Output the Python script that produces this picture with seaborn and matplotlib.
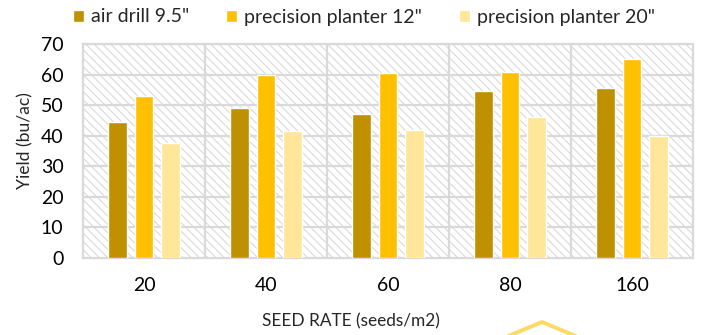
import matplotlib
matplotlib.use("Agg")
import matplotlib.pyplot as plt
import seaborn as sns
import pandas as pd
from matplotlib.patches import Rectangle
from matplotlib.lines import Line2D

seed_rates = ["20", "40", "60", "80", "160"]
air_drill_95 = [44.5, 49.0, 47.0, 54.5, 55.5]
precision_12 = [53.0, 60.0, 60.5, 61.0, 65.0]
precision_20 = [37.5, 41.5, 42.0, 46.0, 40.0]
series_names = ['air drill 9.5"', 'precision planter 12"', 'precision planter 20"']
colors = ["#BF9000", "#FFC000", "#FFE699"]

rows = []
for name, vals in zip(series_names, [air_drill_95, precision_12, precision_20]):
    for rate, v in zip(seed_rates, vals):
        rows.append({"rate": rate, "series": name, "yield": v})
df = pd.DataFrame(rows)

sns.set_theme(style="white")
plt.rcParams["font.family"] = ["Lato", "DejaVu Sans"]
plt.rcParams["hatch.linewidth"] = 0.8
plt.rcParams["hatch.color"] = "#D9D9D9"

fig = plt.figure(figsize=(7.02, 3.35), dpi=100)
ax = fig.add_axes([83 / 702, 1 - 258 / 335, 610 / 702, 214 / 335])

# hatched plot background
ax.add_patch(Rectangle((0, 0), 1, 1, transform=ax.transAxes, facecolor="white",
                       edgecolor="#D9D9D9", hatch="\\\\\\\\", linewidth=0, zorder=0))

sns.barplot(data=df, x="rate", y="yield", hue="series", palette=colors,
            width=0.65, gap=0.3, ax=ax, zorder=3, legend=True, saturation=1)

ax.set_ylim(0, 70)
ax.set_xlim(-0.5, 4.5)
ax.set_yticks(range(0, 71, 10))
for y in range(10, 71, 10):
    ax.axhline(y, color="#D9D9D9", lw=1.6, zorder=1)
for x in [0.5, 1.5, 2.5, 3.5]:
    ax.axvline(x, color="#D9D9D9", lw=1.6, zorder=1)
for s in ax.spines.values():
    s.set_color("#D9D9D9")
    s.set_linewidth(1.6)

ax.tick_params(axis="both", length=0, labelsize=14, colors="#000000")
ax.tick_params(axis="y", pad=14)
ax.tick_params(axis="x", pad=14)
ax.set_xlabel("SEED RATE (seeds/m2)", fontsize=12.4)
ax.set_ylabel("Yield (bu/ac)", fontsize=12.6)
ax.xaxis.set_label_coords(0.44, -0.258)
ax.yaxis.set_label_coords(-0.082, 0.549)

leg = ax.legend(loc="center", bbox_to_anchor=(364 / 702, 1 - 17 / 335),
                bbox_transform=fig.transFigure, ncol=3, frameon=False,
                fontsize=14, handlelength=0.57, handleheight=0.57,
                handletextpad=0.36, columnspacing=1.9, borderaxespad=0,
                borderpad=0)

# decorative chevron below the chart
fig.add_artist(Line2D([506 / 702, 542 / 702, 578 / 702],
                      [1 - 337 / 335, 1 - 322 / 335, 1 - 337 / 335],
                      transform=fig.transFigure, color="#FFD966", lw=2.8))

fig.savefig("out.png", dpi=100)
